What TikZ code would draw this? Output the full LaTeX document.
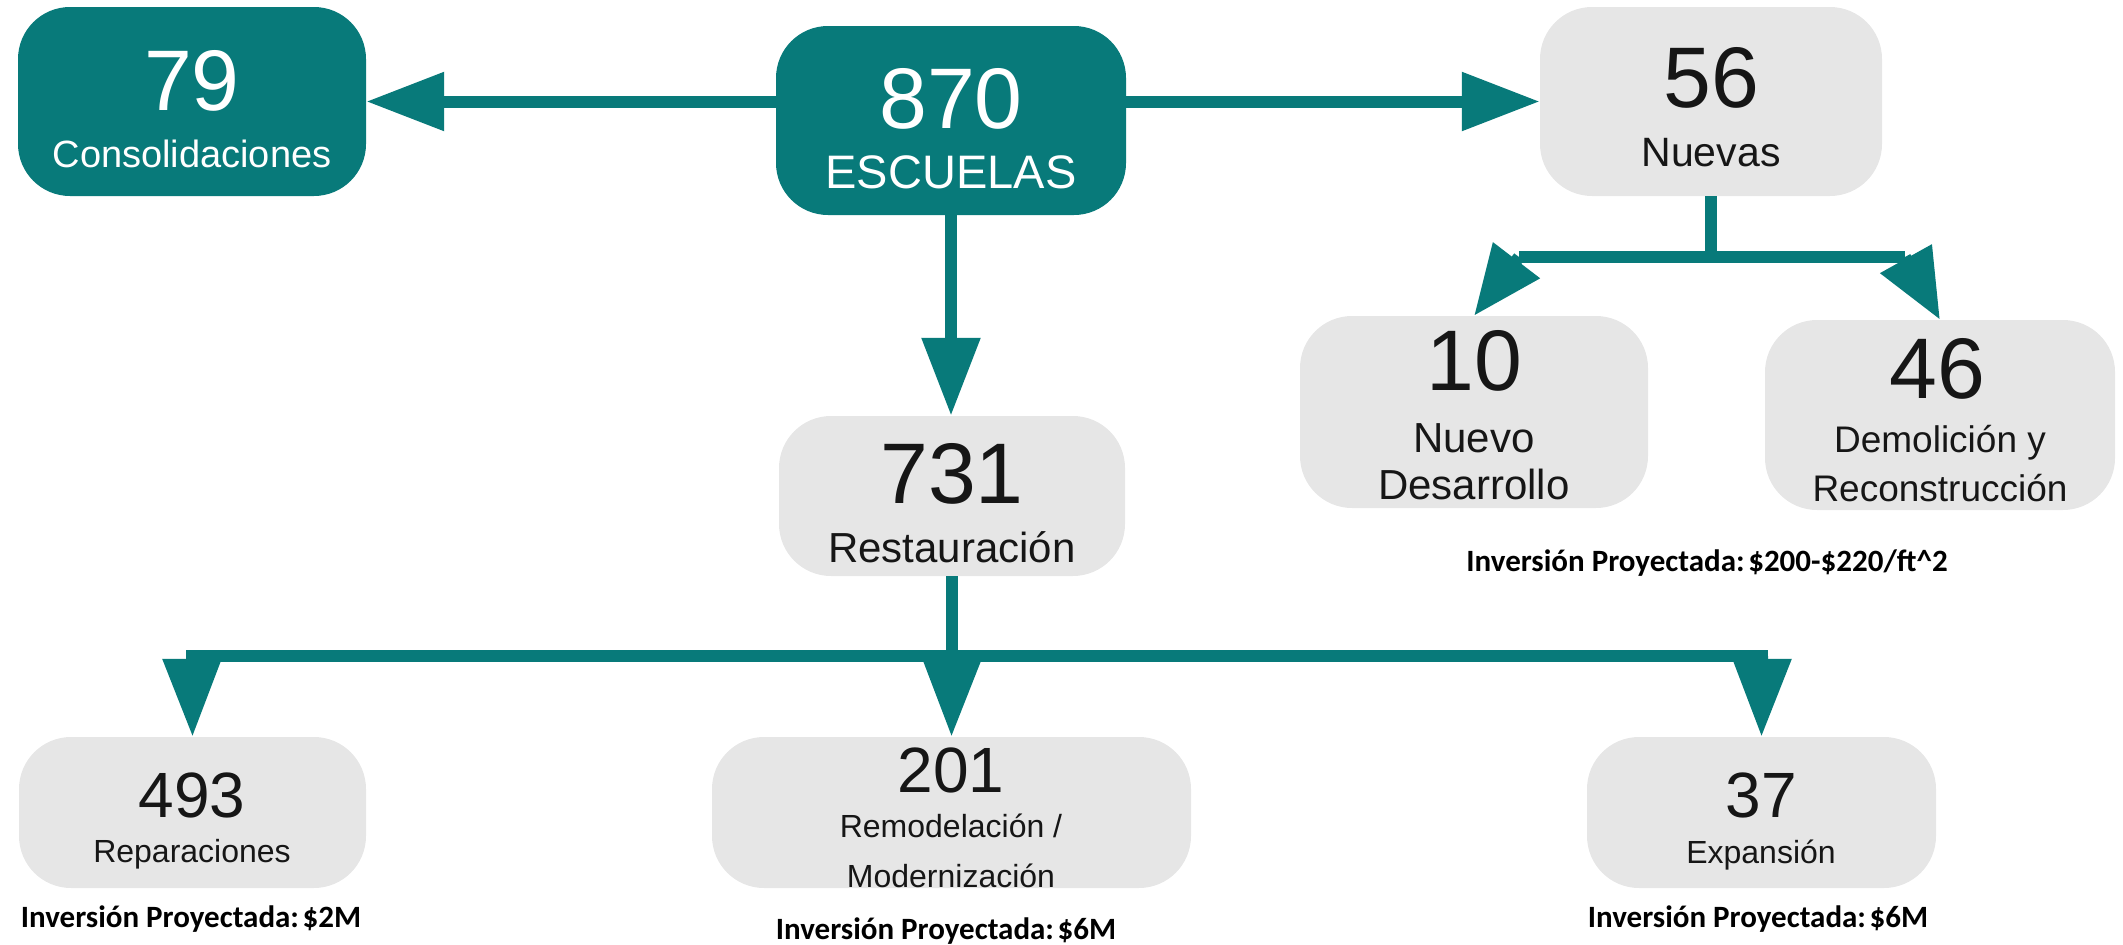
\documentclass[tikz,border=0pt]{standalone}
\usepackage{fontspec}
\setmainfont{Liberation Sans}
\newfontfamily\notefont{Carlito}
\usetikzlibrary{arrows.meta, positioning}
\definecolor{tealbox}{HTML}{087A7A}
\definecolor{greybox}{HTML}{E6E6E6}
\definecolor{inktext}{HTML}{161616}
\newcommand{\costgap}{\hspace{0.12em}}

\begin{document}
\begin{tikzpicture}[x=1pt, y=-1pt,
  card/.style={rounded corners=52pt, inner sep=0pt},
  tealcard/.style={card, fill=tealbox},
  greycard/.style={card, fill=greybox},
  bignum/.style={anchor=base, inner sep=0pt, font=\fontsize{86}{86}\selectfont},
  smallnum/.style={anchor=base, inner sep=0pt, text=inktext, font=\fontsize{64}{64}\selectfont},
  cardtext/.style={anchor=base, inner sep=0pt, align=center},
  note/.style={anchor=base, inner sep=0pt, font=\notefont\bfseries\fontsize{31}{31}\selectfont},
  trunk/.style={draw=tealbox, line width=12pt},
  flow/.style={trunk, -{Triangle[length=78pt, width=56pt]}},
  shorthead/.style={-{Triangle[length=70pt, width=56pt]}}]
\useasboundingbox (0,0) rectangle (2123,945);

% Top row
\node[tealcard, minimum width=348pt, minimum height=189pt] (cons) at (192,101.5) {};
\node[tealcard, minimum width=350pt, minimum height=189pt] (esc) at (951,120.5) {};
\node[greycard, minimum width=342pt, minimum height=189pt] (nuevas) at (1711,101.5) {};
\node[bignum, white] (n79) at (192,110) {79};
\node[cardtext, white, font=\fontsize{38}{38}\selectfont] (t79) at (192,167) {Consolidaciones};
\node[bignum, white] (n870) at (951,128) {870};
\node[cardtext, white, font=\fontsize{47}{47}\selectfont] (t870) at (951,188) {ESCUELAS};
\node[bignum, text=inktext] (n56) at (1711,107) {56};
\node[cardtext, text=inktext, font=\fontsize{41}{41}\selectfont] (t56) at (1711,166) {Nuevas};

% New schools
\node[greycard, minimum width=348pt, minimum height=192pt] (nuevo) at (1474,412) {};
\node[greycard, minimum width=350pt, minimum height=190pt] (demol) at (1940,415) {};
\node[bignum, text=inktext] (n10) at (1474,390) {10};
\node[cardtext, text=inktext, font=\fontsize{42}{47}\selectfont] (t10) at (1474,499) {Nuevo\\Desarrollo};
\node[bignum, text=inktext] (n46) at (1937,398) {46};
\node[cardtext, text=inktext, font=\fontsize{37}{49}\selectfont] (t46) at (1940,501) {Demolición y\\Reconstrucción};
\node[note] (cost4) at (1707,571) {Inversión Proyectada:\costgap\$200-\$220/ft\textasciicircum 2};

% Restoration
\node[greycard, minimum width=346pt, minimum height=160pt] (rest) at (952,496) {};
\node[bignum, text=inktext] (n731) at (952,503) {731};
\node[cardtext, text=inktext, font=\fontsize{42}{42}\selectfont] (t731) at (952,562) {Restauración};

% Bottom row
\node[greycard, minimum width=347pt, minimum height=151pt] (rep) at (192.5,812.5) {};
\node[greycard, minimum width=479pt, minimum height=151pt] (remod) at (951.5,812.5) {};
\node[greycard, minimum width=349pt, minimum height=151pt] (exp) at (1761.5,812.5) {};
\node[smallnum] (n493) at (192,817) {493};
\node[cardtext, text=inktext, font=\fontsize{32}{32}\selectfont] (t493) at (192,862) {Reparaciones};
\node[smallnum] (n201) at (951,792) {201};
\node[cardtext, text=inktext, font=\fontsize{32}{50}\selectfont] (t201) at (951,887) {Remodelación /\\Modernización};
\node[smallnum] (n37) at (1761,817) {37};
\node[cardtext, text=inktext, font=\fontsize{32}{32}\selectfont] (t37) at (1761,863) {Expansión};
\node[note] (cost1) at (191,927) {Inversión Proyectada:\costgap\$2M};
\node[note] (cost2) at (946,939) {Inversión Proyectada:\costgap\$6M};
\node[note] (cost3) at (1758,927) {Inversión Proyectada:\costgap\$6M};

% Arrows from the total
\draw[flow] (esc.west |- cons) -- (cons.east);
\draw[flow] (esc.east |- nuevas) -- (nuevas.west);
\draw[flow] (esc.south) -- (esc.south |- rest.north);

% Split of new schools
\coordinate (nsplit) at (1711,257);
\coordinate (nsplitL) at (1519,257);
\coordinate (nsplitR) at (1905,257);
\draw[trunk] (nuevas.south) -- (nsplit);
\draw[trunk] (nsplitL) -- (nsplitR);
\draw[flow, shorthead] (nsplitL) -- (nuevo.north);
\draw[flow, shorthead] (nsplitR) -- (demol.north);

% Split of restoration
\coordinate (rsplit) at (952,656);
\coordinate (rsplitL) at (192,656);
\coordinate (rsplitR) at (1762,656);
\draw[trunk] (rest.south) -- (rsplit);
\draw[trunk, line cap=rect] (rsplitL) -- (rsplitR);
\draw[flow] (rsplitL) -- (rep.north);
\draw[flow] (rsplit) -- (remod.north);
\draw[flow] (rsplitR) -- (exp.north);
\end{tikzpicture}
\end{document}
